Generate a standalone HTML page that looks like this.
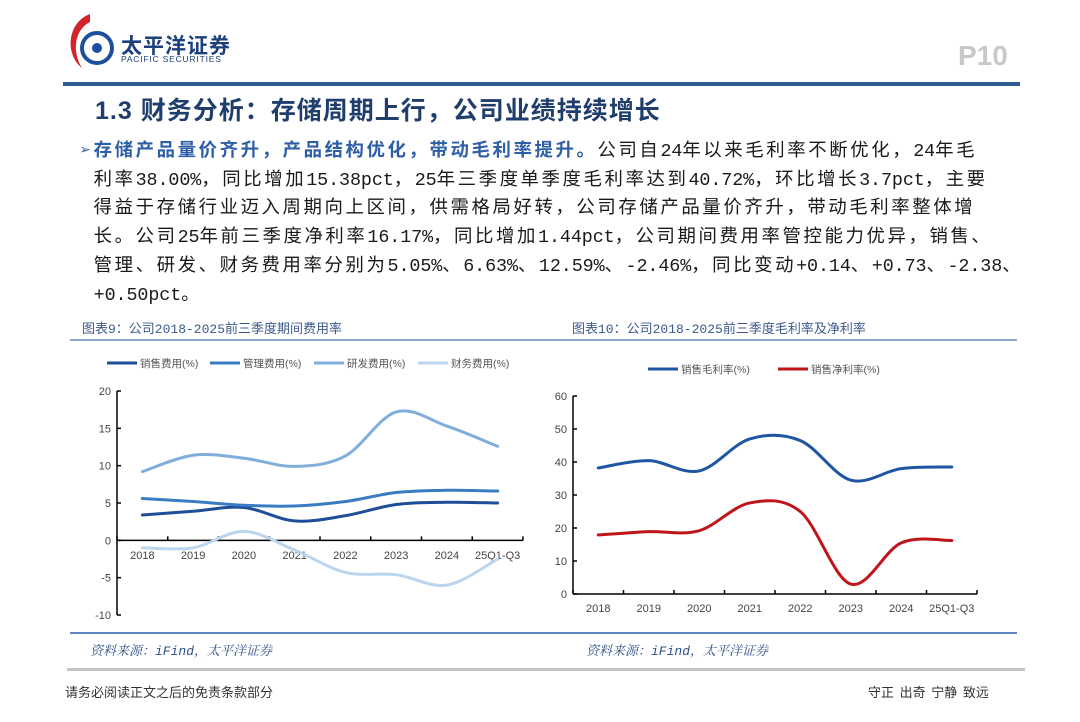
<!DOCTYPE html>
<html><head><meta charset="utf-8">
<style>
body{margin:0;width:1080px;height:722px;background:#fff;position:relative;overflow:hidden;font-family:"Liberation Sans","Noto Sans CJK SC",sans-serif;}
.abs{position:absolute;}
.body-text{left:80px;top:138px;font-size:18.4px;line-height:28.7px;color:#1a1a1a;white-space:nowrap;letter-spacing:2.6px;font-family:"Liberation Mono","Noto Sans CJK SC",monospace;}
.body-text i{font-style:normal;letter-spacing:-0.1px;}
.cap{font-size:13px;color:#3b5a8c;font-family:"Liberation Mono","Noto Sans CJK SC",monospace;}
.src{font-size:13px;color:#2e4f86;font-style:italic;font-family:"Liberation Mono","Noto Serif CJK SC",serif;}
</style></head><body>
<svg class="abs" style="left:60px;top:8px" width="70" height="70">
<path d="M30 6 C8 14 4 45 22 60 C12 44 14 22 30 14 Z" fill="#d2232a"/>
<circle cx="37" cy="40" r="15" fill="none" stroke="#1d4f9c" stroke-width="4"/>
<circle cx="37" cy="40" r="5" fill="#1d4f9c"/>
</svg>
<div class="abs" style="left:121px;top:30px;font-size:21px;font-weight:bold;color:#1d3f7c;letter-spacing:1px">太平洋证券</div>
<div class="abs" style="left:121px;top:54px;font-size:8.5px;color:#1d3f7c;letter-spacing:0.8px">PACIFIC SECURITIES</div>
<div class="abs" style="left:958px;top:40px;font-size:28px;font-weight:bold;color:#c8c8c8">P10</div>
<div class="abs" style="left:63px;top:82px;width:957px;height:4px;background:#2f5e93"></div>
<div class="abs" style="left:95px;top:91px;font-size:25px;font-weight:bold;color:#1f3e6c;letter-spacing:1px">1.3 财务分析：存储周期上行，公司业绩持续增长</div>
<div class="abs body-text"><span style="color:#2e5ea8;font-weight:bold">➢存储产品量价齐升，产品结构优化，带动毛利率提升。</span>公司自<i>24</i>年以来毛利率不断优化，<i>24</i>年毛<br>&nbsp;利率<i>38.00%</i>，同比增加<i>15.38pct</i>，<i>25</i>年三季度单季度毛利率达到<i>40.72%</i>，环比增长<i>3.7pct</i>，主要<br>&nbsp;得益于存储行业迈入周期向上区间，供需格局好转，公司存储产品量价齐升，带动毛利率整体增<br>&nbsp;长。公司<i>25</i>年前三季度净利率<i>16.17%</i>，同比增加<i>1.44pct</i>，公司期间费用率管控能力优异，销售、<br>&nbsp;管理、研发、财务费用率分别为<i>5.05%</i>、<i>6.63%</i>、<i>12.59%</i>、<i>-2.46%</i>，同比变动<i>+0.14</i>、<i>+0.73</i>、<i>-2.38</i>、<br>&nbsp;<i>+0.50pct</i>。</div>
<div class="abs cap" style="left:82px;top:318px">图表9：公司2018-2025前三季度期间费用率</div>
<div class="abs cap" style="left:572px;top:318px">图表10：公司2018-2025前三季度毛利率及净利率</div>
<div class="abs" style="left:70px;top:339px;width:947px;height:2px;background:#8aaad0"></div>
<svg id="chart" class="abs" style="left:0;top:0" width="1080" height="722"></svg>
<div class="abs" style="left:70px;top:632px;width:947px;height:2px;background:#5b86c0"></div>
<div class="abs src" style="left:90px;top:640px">资料来源：iFind，太平洋证券</div>
<div class="abs src" style="left:586px;top:640px">资料来源：iFind，太平洋证券</div>
<div class="abs" style="left:67px;top:668px;width:958px;height:3px;background:#c4c4c4"></div>
<div class="abs" style="left:65px;top:682px;font-size:13px;color:#333">请务必阅读正文之后的免责条款部分</div>
<div class="abs" style="left:868px;top:682px;font-size:13px;color:#333;word-spacing:2px">守正 出奇 宁静 致远</div>
<script>
const categories=["2018","2019","2020","2021","2022","2023","2024","25Q1-Q3"];
const salesExp=[3.4,3.9,4.4,2.6,3.3,4.8,5.1,5.0];
const adminExp=[5.6,5.2,4.7,4.6,5.2,6.4,6.7,6.6];
const rdExp=[9.2,11.4,11.0,9.9,11.3,17.2,15.3,12.6];
const finExp=[-1.0,-1.0,1.2,-1.3,-4.3,-4.6,-6.0,-2.5];
const leftTicks=[20,15,10,5,0,-5,-10];
const grossMargin=[38.2,40.4,37.3,47.0,46.5,34.5,38.0,38.5];
const netMargin=[17.9,18.9,19.2,27.6,25.0,3.0,15.5,16.2];
const rightTicks=[60,50,40,30,20,10,0];
const NS="http://www.w3.org/2000/svg";
const svg=document.getElementById('chart');
function mk(t,a,p){const e=document.createElementNS(NS,t);for(const k in a)e.setAttribute(k,a[k]);(p||svg).appendChild(e);return e;}
function smooth(pts){let d=`M${pts[0][0]},${pts[0][1]}`;for(let i=0;i<pts.length-1;i++){const p0=pts[i-1]||pts[i],p1=pts[i],p2=pts[i+1],p3=pts[i+2]||p2;d+=` C${p1[0]+(p2[0]-p0[0])/6},${p1[1]+(p2[1]-p0[1])/6} ${p2[0]-(p3[0]-p1[0])/6},${p2[1]-(p3[1]-p1[1])/6} ${p2[0]},${p2[1]}`;}return d;}
function chart(cfg){
 const {x0,x1,yTop,yBot,vmax,vmin,ticks,series,xLabelY,name}=cfg;
 const n=categories.length,bw=(x1-x0)/n;
 const X=i=>x0+bw*(i+0.5);
 const Y=v=>yTop+(vmax-v)/(vmax-vmin)*(yBot-yTop);
 const g=mk('g',{});
 
 
 mk('line',{x1:x0,y1:yTop,x2:x0,y2:yBot,stroke:'#000','stroke-width':1.5},g);
 ticks.forEach(t=>{mk('line',{x1:x0,y1:Y(t),x2:x0+4,y2:Y(t),stroke:'#000','stroke-width':1.5},g);
  const tx=mk('text',{x:x0-6,y:Y(t)+4,'text-anchor':'end','font-size':11,fill:'#444','font-family':'Liberation Sans'},g);tx.textContent=t;
  });
 const y0=Y(Math.max(vmin,0));
 mk('line',{x1:x0,y1:y0,x2:x1,y2:y0,stroke:'#000','stroke-width':1.5},g);
 for(let i=0;i<=n;i++)mk('line',{x1:x0+bw*i,y1:y0,x2:x0+bw*i,y2:y0-4,stroke:'#000','stroke-width':1.5},g);
 categories.forEach((c,i)=>{const tx=mk('text',{x:X(i),y:xLabelY,'text-anchor':'middle','font-size':11,fill:'#444','font-family':'Liberation Sans'},g);tx.textContent=c;
  });
 series.forEach(s=>{const p=mk('path',{d:smooth(s.data.map((v,i)=>[X(i),Y(v)])),fill:'none',stroke:s.color,'stroke-width':3,'stroke-linecap':'round'},g);
  });
 cfg.legend.forEach(l=>{mk('line',{x1:l.x,y1:l.y,x2:l.x+30,y2:l.y,stroke:l.color,'stroke-width':3},g);
  const tx=mk('text',{x:l.x+33,y:l.y+4,'font-size':10.5,fill:'#555','font-family':'Liberation Sans, Noto Sans CJK SC'},g);tx.textContent=l.label;
  });
}
chart({name:'expense-ratio-chart',x0:117,x1:523,yTop:391,yBot:615,vmax:20,vmin:-10,ticks:leftTicks,xLabelY:559,
 series:[{name:'line-sales-expense',data:salesExp,color:'#1f4e99'},{name:'line-admin-expense',data:adminExp,color:'#3a7cc4'},{name:'line-rd-expense',data:rdExp,color:'#80aedc'},{name:'line-finance-expense',data:finExp,color:'#bcd5ee'}],
 legend:[{x:107,y:363,color:'#1f4e99',label:'销售费用(%)'},{x:210,y:363,color:'#3a7cc4',label:'管理费用(%)'},{x:314,y:363,color:'#80aedc',label:'研发费用(%)'},{x:418,y:363,color:'#bcd5ee',label:'财务费用(%)'}]});
chart({name:'margin-chart',x0:573,x1:977,yTop:396,yBot:594,vmax:60,vmin:0,ticks:rightTicks,xLabelY:612,
 series:[{name:'line-gross-margin',data:grossMargin,color:'#1f56a3'},{name:'line-net-margin',data:netMargin,color:'#c0141b'}],
 legend:[{x:648,y:369,color:'#1f56a3',label:'销售毛利率(%)'},{x:778,y:369,color:'#c0141b',label:'销售净利率(%)'}]});
</script>
</body></html>
